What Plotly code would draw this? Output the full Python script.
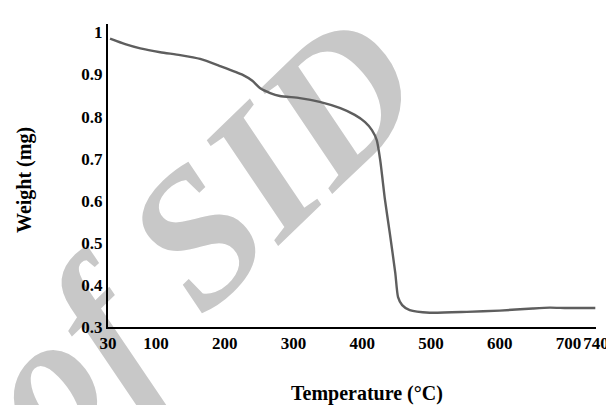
import plotly.graph_objects as go

# Data (TGA curve)
temperature_c = [33, 55, 77, 106, 135, 164, 193, 226, 240, 251, 266, 280, 309, 338, 368,
                 389, 404, 414, 421, 426, 433, 440, 448, 452, 458, 469, 498, 552, 600,
                 648, 673, 698, 739]
weight_mg = [0.985, 0.972, 0.962, 0.953, 0.946, 0.937, 0.920, 0.899, 0.885, 0.868, 0.856,
             0.849, 0.844, 0.835, 0.820, 0.804, 0.787, 0.768, 0.744, 0.697, 0.602, 0.523,
             0.428, 0.371, 0.352, 0.340, 0.334, 0.336, 0.339, 0.344, 0.346, 0.345, 0.345]

x_tick_vals = [30, 100, 200, 300, 400, 500, 600, 700, 740]
y_tick_vals = [0.3, 0.4, 0.5, 0.6, 0.7, 0.8, 0.9, 1.0]
y_tick_text = ["0.3", "0.4", "0.5", "0.6", "0.7", "0.8", "0.9", "1"]

x_title = "Temperature (°C)"
y_title = "Weight (mg)"
watermark = "of SID"

FONT = "Liberation Serif, Times New Roman, serif"

fig = go.Figure()
fig.add_trace(go.Scatter(
    x=temperature_c, y=weight_mg, mode="lines",
    line=dict(color="#5e5e5e", width=2.4, shape="spline", smoothing=0.6),
    hoverinfo="skip", showlegend=False,
))

# the page body adds an 8px offset, so margins are reduced by 8 on the left/top
fig.update_layout(
    width=614, height=405,
    margin=dict(l=100, r=26, t=16, b=86),
    paper_bgcolor="white", plot_bgcolor="rgba(0,0,0,0)",
    showlegend=False,
    xaxis=dict(
        range=[30, 740], tickmode="array", tickvals=x_tick_vals,
        ticks="", showgrid=False, zeroline=False, automargin=False, tickangle=0,
        showline=True, linecolor="black", linewidth=2,
        tickfont=dict(family=FONT, size=17, color="black", weight="bold"),
    ),
    yaxis=dict(
        range=[0.3, 1.02], tickmode="array", tickvals=y_tick_vals, ticktext=y_tick_text,
        ticks="", showgrid=False, zeroline=False, automargin=False,
        showline=True, linecolor="black", linewidth=2,
        tickfont=dict(family=FONT, size=17, color="black", weight="bold"),
    ),
    shapes=[dict(
        type="rect", xref="paper", yref="paper", x0=-0.445, x1=0.755, y0=-0.267, y1=0.983,
        line=dict(width=0), fillcolor="rgba(0,0,0,0)", layer="below",
        label=dict(text=watermark, textangle=-44, textposition="middle center",
                   font=dict(family=FONT, size=192, color="#c8c8c8",
                             weight="bold", style="italic")),
    )],
    annotations=[
        dict(text=x_title, xref="paper", yref="paper", x=(367 - 108) / 488, y=-(394 - 327) / 303,
             xanchor="center", yanchor="middle", showarrow=False,
             font=dict(family=FONT, size=20, color="black", weight="bold")),
        dict(text=y_title, xref="paper", yref="paper", x=-(108 - 24) / 488, y=(327 - 180) / 303,
             xanchor="center", yanchor="middle", showarrow=False, textangle=-90,
             font=dict(family=FONT, size=20, color="black", weight="bold")),
    ],
)

fig.write_html("out.html")
